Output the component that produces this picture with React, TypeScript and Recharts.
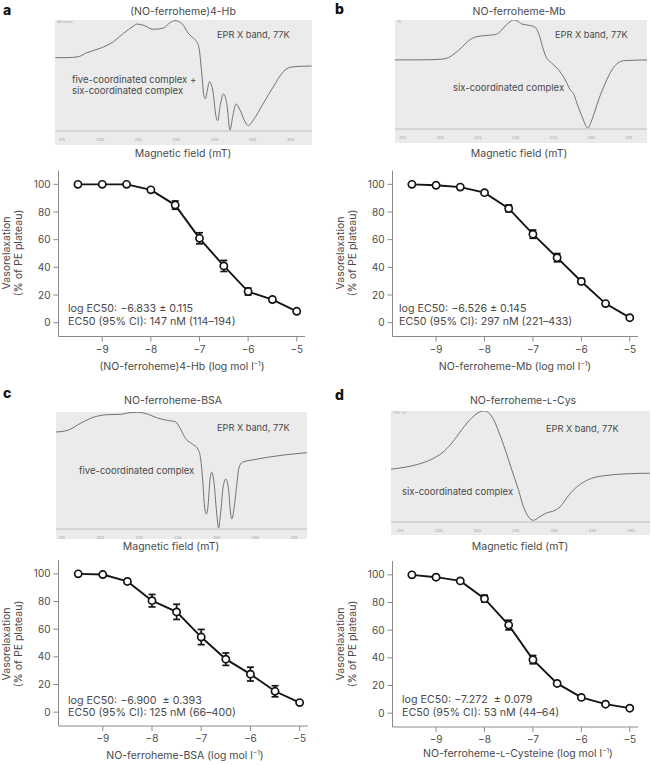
import React from 'react';
import { LineChart, Line, XAxis, YAxis, ErrorBar } from 'recharts';

// dose-response: log molar concentration of each NO-ferroheme compound
const LOG_CONC = [-9.5, -9, -8.5, -8, -7.5, -7, -6.5, -6, -5.5, -5];

const HB_RELAX = [100, 100, 100, 96, 85, 61, 41, 22.5, 16.7, 8.2];
const HB_SEM = [0.8, 0.8, 0.8, 1, 3, 4, 4, 2.5, 1.5, 1];
const MB_RELAX = [100, 99.3, 98, 94, 82.6, 64, 47, 29.8, 13.8, 3.6];
const MB_SEM = [0.8, 0.8, 1, 1, 2.5, 3, 3, 2, 1, 1];
const BSA_RELAX = [100, 99.5, 94.5, 80.6, 72.5, 54.3, 38.3, 27.5, 15.1, 6.9];
const BSA_SEM = [0.8, 0.8, 1.5, 4.5, 5.5, 5.5, 4.5, 5, 4, 1];
const CYS_RELAX = [100, 98.3, 95.6, 82.8, 63.7, 38.7, 21.5, 11.4, 6.5, 3.6];
const CYS_SEM = [0.8, 1, 1, 2.5, 3.5, 3, 1, 1, 1, 1];

const CONC_TICKS = [-9, -8, -7, -6, -5];
const RELAX_TICKS = [0, 20, 40, 60, 80, 100];
const FIELD_TICKS = [315, 320, 325, 330, 335, 340, 345];

// EPR spectra (field in mT, first-derivative signal in arbitrary units)
const HB_FIELD = [314.13, 315.66, 317.18, 318.28, 320.02, 321.77, 323.08, 324.39, 324.83, 325.7, 327.01, 328.32, 329.19, 329.85, 330.72, 331.59, 332.25, 332.69, 333.03, 333.34, 333.65, 333.82, 334.08, 334.34, 334.78, 335.22, 335.44, 335.74, 336.18, 336.62, 337.05, 337.4, 337.84, 338.36, 339.02, 339.45, 340.11, 341.42, 342.73, 344.04, 344.91, 346.22, 347.75];
const HB_EPR = [0, 0, 3, 15, 28, 48, 73, 95, 101, 97, 85, 89, 105, 111, 103, 73, 58, 48, 23, -47, -117, -123, -97, -72, -97, -177, -189, -147, -109, -137, -217, -177, -139, -157, -192, -204, -187, -137, -87, -42, -29, -26, -25];

const MB_FIELD = [314.03, 317.12, 320.22, 321.11, 321.99, 322.88, 323.76, 324.87, 326.42, 327.3, 327.96, 328.63, 329.29, 329.73, 330.18, 330.84, 331.81, 332.61, 333.14, 333.58, 334.03, 334.82, 335.71, 336.59, 337.26, 337.7, 338.14, 338.81, 339.6, 340.13, 341.02, 341.9, 342.79, 343.67, 344.56, 345.88, 347.43];
const MB_EPR = [0, 0, 2, 7, 20, 38, 57, 70, 74, 76, 85, 102, 115, 120, 118, 108, 104, 98, 75, 40, 10, -10, -30, -60, -90, -102, -130, -170, -205, -180, -120, -70, -30, -8, -2, -1, 0];

const BSA_FIELD = [314.27, 315.77, 317.49, 319.21, 320.92, 322.64, 323.5, 324.79, 326.07, 327.36, 328.65, 329.72, 330.36, 331.01, 331.87, 332.6, 332.94, 333.24, 333.45, 333.67, 333.88, 334.14, 334.36, 334.66, 335.0, 335.26, 335.52, 335.86, 336.2, 336.55, 336.8, 336.97, 337.23, 337.58, 337.88, 338.3, 339.81, 341.52, 343.67, 346.67];
const BSA_EPR = [0, 5, 27, 45, 52, 53, 57, 59, 54, 42, 35, 30, 8, -20, -36, -52, -80, -155, -225, -246, -225, -145, -121, -150, -240, -288, -243, -163, -141, -173, -243, -261, -233, -163, -108, -91, -83, -76, -69, -62];

const CYS_FIELD = [313.79, 315.65, 317.38, 319.11, 320.41, 321.71, 323.01, 324.31, 325.39, 325.95, 326.47, 327.12, 327.77, 328.64, 329.5, 330.37, 331.02, 331.67, 332.32, 332.97, 333.83, 335.13, 335.78, 336.43, 337.29, 338.59, 339.89, 341.62, 344.22, 347.47];
const CYS_EPR = [0, 6, 15, 30, 48, 78, 118, 153, 171, 173, 168, 148, 113, 58, -2, -62, -112, -142, -152, -144, -132, -122, -112, -92, -67, -42, -27, -19, -14, -12];

const FONT = 'Inter, "Liberation Sans", sans-serif';
const TEXT = '#4a4a4a';

const minus = (v: number) => String(v).replace('-', '\u2212');

function Txt({ x, y, children, size = 10.5, color = TEXT, align = 'left', weight = 400 }: any) {
  const tx = align === 'center' ? '-50%' : '0';
  return (
    <div
      style={{
        position: 'absolute',
        left: x,
        top: y,
        transform: `translate(${tx}, -50%)`,
        fontFamily: FONT,
        fontSize: size,
        fontWeight: weight,
        color,
        whiteSpace: 'pre',
        lineHeight: 1,
      }}
    >
      {children}
    </div>
  );
}

function Spectrum({ field, signal, xDomain, yDomain, left, top, width, height, axisHeight }: any) {
  const data = field.map((f: number, i: number) => ({ field: f, signal: signal[i] }));
  return (
    <div style={{ position: 'absolute', left, top, width, height, background: '#ebebeb' }}>
      <LineChart width={width} height={height} data={data} margin={{ top: 0, right: 0, bottom: 0, left: 0 }}>
        <XAxis
          type="number"
          dataKey="field"
          domain={xDomain}
          allowDataOverflow
          ticks={FIELD_TICKS}
          interval={0}
          height={axisHeight}
          tickLine={false}
          tickMargin={1}
          axisLine={{ stroke: '#b3b3b3', strokeWidth: 0.8 }}
          tick={{ fontSize: 4, fill: '#a0a0a0', fontFamily: FONT }}
        />
        <YAxis hide type="number" domain={yDomain} allowDataOverflow />
        <Line
          type="monotone"
          dataKey="signal"
          stroke="#727272"
          strokeWidth={1}
          dot={false}
          isAnimationActive={false}
        />
      </LineChart>
    </div>
  );
}

function DoseCurve({ values, sem, left, top, width, height, marginTop, marginRight }: any) {
  const data = LOG_CONC.map((c, i) => ({ conc: c, relax: values[i], sem: sem[i] }));
  return (
    <div style={{ position: 'absolute', left, top }}>
      <LineChart
        width={width}
        height={height}
        data={data}
        margin={{ top: marginTop, right: marginRight, bottom: 0, left: 0 }}
      >
        <XAxis
          type="number"
          dataKey="conc"
          domain={[-9.9, -4.83]}
          allowDataOverflow
          ticks={CONC_TICKS}
          interval={0}
          tickFormatter={minus}
          height={height - marginTop - 166}
          tickSize={5}
          tickMargin={4}
          axisLine={{ stroke: '#8a8a8a' }}
          tickLine={{ stroke: '#8a8a8a' }}
          tick={{ fontSize: 10, fill: TEXT, fontFamily: FONT }}
        />
        <YAxis
          type="number"
          domain={[-10, 110]}
          allowDataOverflow
          ticks={RELAX_TICKS}
          interval={0}
          width={58.5}
          tickSize={5}
          tickMargin={3}
          axisLine={{ stroke: '#8a8a8a' }}
          tickLine={{ stroke: '#8a8a8a' }}
          tick={{ fontSize: 10, fill: TEXT, fontFamily: FONT }}
        />
        <Line
          type="linear"
          dataKey="relax"
          stroke="#141414"
          strokeWidth={1.9}
          dot={{ r: 3.6, fill: '#ffffff', stroke: '#141414', strokeWidth: 1.7 }}
          isAnimationActive={false}
        >
          <ErrorBar dataKey="sem" direction="y" width={3.5} stroke="#141414" strokeWidth={1.7} />
        </Line>
      </LineChart>
    </div>
  );
}

function YLabel({ x, y }: any) {
  return (
    <div
      style={{
        position: 'absolute',
        left: x,
        top: y,
        transform: 'translate(-50%, -50%) rotate(-90deg)',
        fontFamily: FONT,
        fontSize: 10.5,
        color: TEXT,
        textAlign: 'center',
        whiteSpace: 'nowrap',
        lineHeight: '12px',
      }}
    >
      Vasorelaxation
      <br />
      (% of PE plateau)
    </div>
  );
}

const unit = (
  <>
    (log mol l<sup style={{ fontSize: '0.62em', verticalAlign: '0.6em' }}>{'\u22121'}</sup>)
  </>
);

const lCys = <span style={{ fontVariant: 'small-caps' }}>l</span>;

export default function App() {
  return (
    <div
      style={{
        position: 'absolute',
        left: 0,
        top: 0,
        width: 651,
        height: 765,
        background: '#ffffff',
        overflow: 'hidden',
      }}
    >
      {/* panel letters */}
      <Txt x={3} y={10} size={14} weight={800} color="#111">a</Txt>
      <Txt x={335} y={9} size={14} weight={800} color="#111">b</Txt>
      <Txt x={3} y={393} size={14} weight={800} color="#111">c</Txt>
      <Txt x={335} y={395} size={14} weight={800} color="#111">d</Txt>

      {/* EPR spectra */}
      <Txt x={183} y={12} align="center">(NO-ferroheme)4-Hb</Txt>
      <Spectrum field={HB_FIELD} signal={HB_EPR} xDomain={[314.1, 347.8]} yDomain={[-220, 113]}
        left={55} top={20} width={257} height={125} axisHeight={14} />
      <Txt x={57} y={23} size={3.5} color="#aaa">dB heme)</Txt>
      <Txt x={217} y={35} size={9.2}>EPR X band, 77K</Txt>
      <Txt x={72} y={80} size={9.5}>five-coordinated complex +</Txt>
      <Txt x={72} y={91} size={9.5}>six-coordinated complex</Txt>
      <Txt x={183} y={154} align="center">Magnetic field (mT)</Txt>

      <Txt x={519} y={12} align="center">NO-ferroheme-Mb</Txt>
      <Spectrum field={MB_FIELD} signal={MB_EPR} xDomain={[314.03, 347.43]} yDomain={[-208, 120]}
        left={395} top={20} width={252} height={123} axisHeight={14} />
      <Txt x={397} y={23} size={3.5} color="#aaa">7K</Txt>
      <Txt x={555} y={35} size={9.2}>EPR X band, 77K</Txt>
      <Txt x={453} y={88} size={9.5}>six-coordinated complex</Txt>
      <Txt x={519} y={154} align="center">Magnetic field (mT)</Txt>

      <Txt x={173} y={401} align="center">NO-ferroheme-BSA</Txt>
      <Spectrum field={BSA_FIELD} signal={BSA_EPR} xDomain={[314.27, 346.67]} yDomain={[-291, 60]}
        left={56} top={412} width={251} height={127} axisHeight={10} />
      <Txt x={217} y={428} size={9.2}>EPR X band, 77K</Txt>
      <Txt x={79} y={471} size={9.5}>five-coordinated complex</Txt>
      <Txt x={171} y={547} align="center">Magnetic field (mT)</Txt>

      <Txt x={523} y={401} align="center">NO-ferroheme-{lCys}-Cys</Txt>
      <Spectrum field={CYS_FIELD} signal={CYS_EPR} xDomain={[313.79, 347.47]} yDomain={[-157, 173]}
        left={391} top={411} width={259} height={124} axisHeight={13} />
      <Txt x={393} y={414} size={3.5} color="#aaa">TRS -07</Txt>
      <Txt x={546} y={429} size={9.2}>EPR X band, 77K</Txt>
      <Txt x={402} y={492} size={9.5}>six-coordinated complex</Txt>
      <Txt x={520} y={547} align="center">Magnetic field (mT)</Txt>

      {/* dose-response curves */}
      <DoseCurve values={HB_RELAX} sem={HB_SEM} left={0} top={160} width={320} height={220}
        marginTop={10.5} marginRight={15} />
      <YLabel x={13} y={253} />
      <Txt x={68} y={309} size={10.7}>log EC50: {'\u2212'}6.833 ± 0.115</Txt>
      <Txt x={68} y={322} size={10.7}>EC50 (95% CI): 147 nM (114–194)</Txt>
      <Txt x={182} y={367} align="center">(NO-ferroheme)4-Hb {unit}</Txt>

      <DoseCurve values={MB_RELAX} sem={MB_SEM} left={334} top={160} width={317} height={220}
        marginTop={10.5} marginRight={13} />
      <YLabel x={347} y={253} />
      <Txt x={399} y={309} size={10.7}>log EC50: {'\u2212'}6.526 ± 0.145</Txt>
      <Txt x={399} y={322} size={10.7}>EC50 (95% CI): 297 nM (221–433)</Txt>
      <Txt x={515} y={367} align="center">NO-ferroheme-Mb {unit}</Txt>

      <DoseCurve values={BSA_RELAX} sem={BSA_SEM} left={0} top={550} width={320} height={215}
        marginTop={10} marginRight={12} />
      <YLabel x={13} y={644} />
      <Txt x={68} y={701} size={10.7}>log EC50: {'\u2212'}6.900  ± 0.393</Txt>
      <Txt x={68} y={713} size={10.7}>EC50 (95% CI): 125 nM (66–400)</Txt>
      <Txt x={185} y={756} align="center">NO-ferroheme-BSA {unit}</Txt>

      <DoseCurve values={CYS_RELAX} sem={CYS_SEM} left={334} top={550} width={317} height={215}
        marginTop={11} marginRight={13} />
      <YLabel x={347} y={644} />
      <Txt x={402} y={700} size={10.7}>log EC50: {'\u2212'}7.272  ± 0.079</Txt>
      <Txt x={402} y={713} size={10.7}>EC50 (95% CI): 53 nM (44–64)</Txt>
      <Txt x={518} y={754} align="center">NO-ferroheme-{lCys}-Cysteine {unit}</Txt>
    </div>
  );
}
